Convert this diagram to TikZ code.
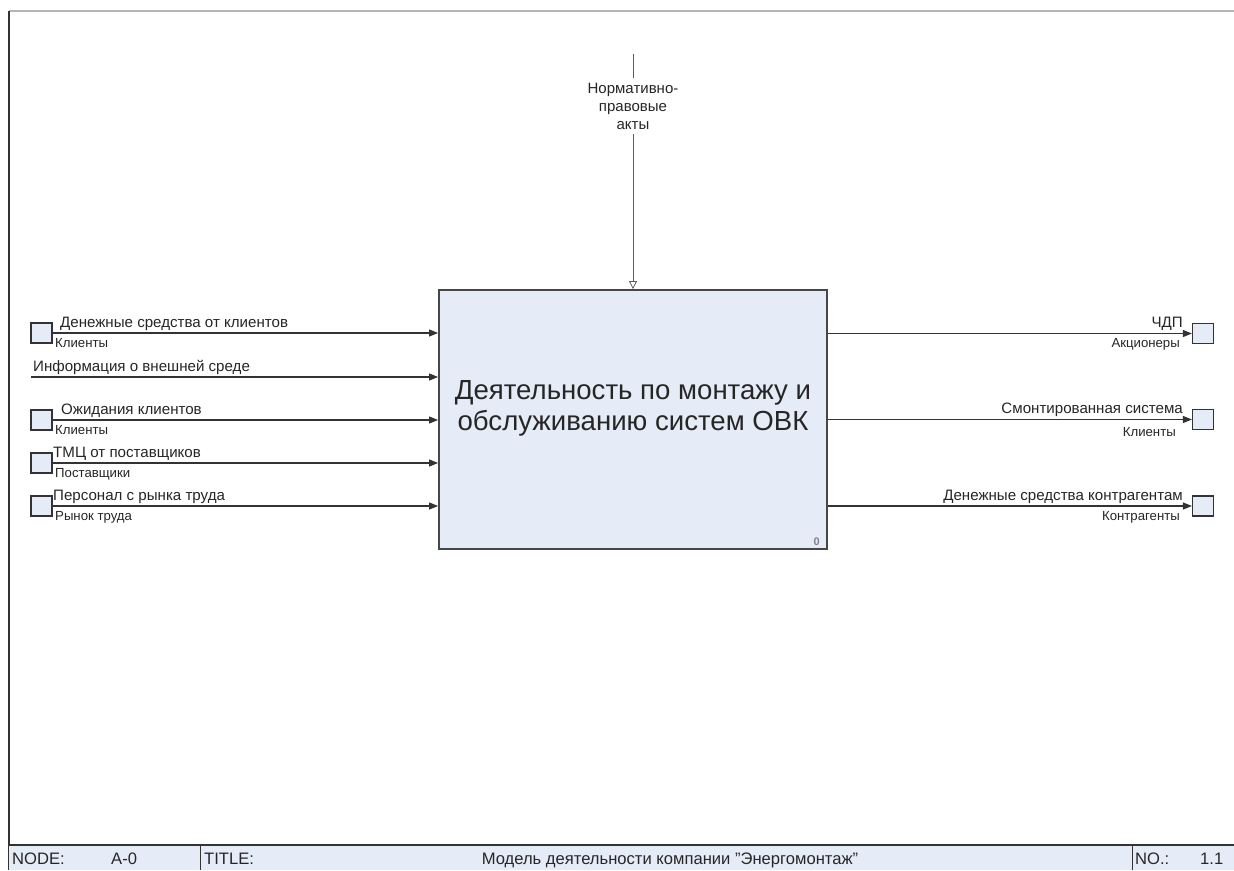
\documentclass[tikz,border=0pt]{standalone}
\usepackage{fontspec}
\setmainfont{Liberation Sans}
\usetikzlibrary{arrows.meta}
\definecolor{boxfill}{HTML}{E6ECF7}
\definecolor{linec}{HTML}{333333}
\definecolor{framegray}{HTML}{B4B4B4}
\tikzset{
  conn/.style={draw=linec, line width=1.1pt, -{Triangle[length=9pt,width=7pt]}},
  ctrl/.style={draw=linec!80, line width=0.8pt, -{Triangle[open,length=8pt,width=8pt]}},
  tunnel/.style={draw=linec, line width=1.2pt, fill=boxfill, minimum width=21pt, minimum height=20pt, inner sep=0pt},
  lab/.style={inner sep=0pt, font=\fontsize{15.1}{17}\selectfont, text=black!85},
  sublab/.style={inner sep=0pt, font=\fontsize{13.2}{15}\selectfont, text=black!85},
  foot/.style={inner sep=0pt, font=\fontsize{16.6}{18}\selectfont, text=black!85},
}
\begin{document}
\begin{tikzpicture}[x=1pt,y=-1pt]
\useasboundingbox (0,0) rectangle (1234,870);
\fill[white] (0,0) rectangle (1234,870);
% frame
\draw[framegray, line width=2pt] (9,11) -- (1234,11);
\draw[black!80, line width=1.6pt] (9,11) -- (9,870);
% footer
\fill[boxfill] (9,845) rectangle (1234,870);
\draw[black!80, line width=1.2pt] (9,845) -- (1234,845);
\draw[black!80, line width=1pt] (200,845) -- (200,870);
\draw[black!80, line width=1pt] (1132,845) -- (1132,870);
\node[foot, anchor=base west] (fnode) at (12,864) {NODE:};
\node[foot, anchor=base west] (fnum) at (111,864) {A-0};
\node[foot, anchor=base west] (ftitle) at (204,864) {TITLE:};
\node[foot, anchor=base] (fname) at (670,864) {Модель деятельности компании \char34Энергомонтаж\char34};
\node[foot, anchor=base west] (fno) at (1135,864) {NO.:};
\node[foot, anchor=base west] (fnov) at (1200,864) {1.1};
% main box
\node[draw=linec!90, line width=1.8pt, fill=boxfill, minimum width=388pt, minimum height=259pt, inner sep=0pt] (A0) at (633,419.5) {};
\node[inner sep=0pt, align=center, font=\fontsize{27.6}{31}\selectfont, text=black!85] (A0t) at (633,408) {Деятельность по монтажу и\\обслуживанию систем ОВК};
\node[inner sep=0pt, anchor=base east, font=\fontsize{11}{12}\bfseries, text=black!50] (A0n) at (820,545) {0};
% control
\coordinate (ctop) at (633,54);
\node[inner sep=0pt, align=center, font=\fontsize{15}{18}\selectfont, text=black!85] (clab) at (633,106) {Нормативно-\\правовые\\акты};
\draw[draw=linec!80, line width=0.8pt] (ctop) -- (633,78);
\draw[ctrl] (633,134) -- (A0.north -| 633,0);
% inputs
\node[tunnel] (i1) at (41.5,333) {};
\draw[conn] (i1.east) -- (A0.west |- i1.east);
\node[lab, anchor=base west] (i1a) at (60,327) {Денежные средства от клиентов};
\node[sublab, anchor=base west] (i1b) at (55,347.5) {Клиенты};

\coordinate (i2) at (31,377);
\draw[conn] (i2) -- (A0.west |- i2);
\node[lab, anchor=base west] (i2a) at (33,371) {Информация о внешней среде};

\node[tunnel] (i3) at (41.5,420) {};
\draw[conn] (i3.east) -- (A0.west |- i3.east);
\node[lab, anchor=base west] (i3a) at (61,414) {Ожидания клиентов};
\node[sublab, anchor=base west] (i3b) at (55,434) {Клиенты};

\node[tunnel] (i4) at (41.5,463) {};
\draw[conn] (i4.east) -- (A0.west |- i4.east);
\node[lab, anchor=base west] (i4a) at (53,457) {ТМЦ от поставщиков};
\node[sublab, anchor=base west] (i4b) at (55,477) {Поставщики};

\node[tunnel] (i5) at (41.5,506) {};
\draw[conn] (i5.east) -- (A0.west |- i5.east);
\node[lab, anchor=base west] (i5a) at (53,500) {Персонал с рынка труда};
\node[sublab, anchor=base west] (i5b) at (55,520) {Рынок труда};
% outputs
\node[tunnel] (o1) at (1203,333.5) {};
\draw[conn] (A0.east |- o1.west) -- (o1.west);
\node[lab, anchor=base east] (o1a) at (1183,327) {ЧДП};
\node[sublab, anchor=base east] (o1b) at (1180,347) {Акционеры};

\node[tunnel] (o2) at (1203,419.5) {};
\draw[conn] (A0.east |- o2.west) -- (o2.west);
\node[lab, anchor=base east] (o2a) at (1183,413) {Смонтированная система};
\node[sublab, anchor=base east] (o2b) at (1176,436) {Клиенты};

\node[tunnel] (o3) at (1203,506) {};
\draw[conn] (A0.east |- o3.west) -- (o3.west);
\node[lab, anchor=base east] (o3a) at (1183,500) {Денежные средства контрагентам};
\node[sublab, anchor=base east] (o3b) at (1180,520) {Контрагенты};
\end{tikzpicture}
\end{document}
